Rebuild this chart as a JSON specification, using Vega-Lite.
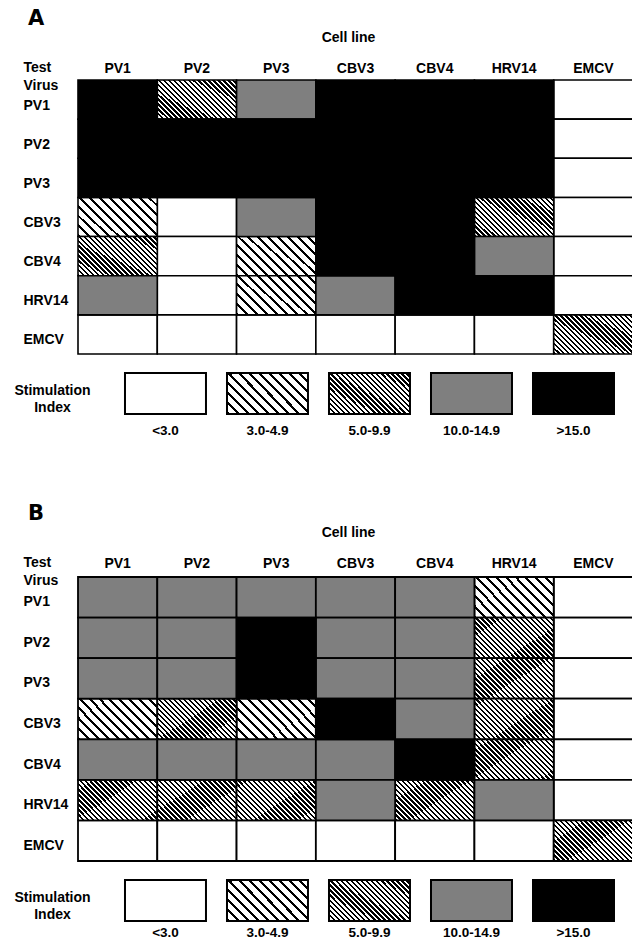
{
"$schema": "https://vega.github.io/schema/vega-lite/v6.json",
"padding": {"left": 13, "top": 8, "right": 0, "bottom": 0},
"bounds": "flush",
"spacing": 19,
"config": {"view": {"stroke": null}, "font": "Liberation Sans", "axis": {"labelColor": "#000", "titleColor": "#000", "labelFontWeight": "bold", "titleFontWeight": "bold", "labelFontSize": 14, "titleFontSize": 14, "ticks": false, "tickSize": 0, "domain": false, "grid": false}},
"datasets": {
"A": [
{"virus":"PV1","cell":"PV1","si":">15.0"},{"virus":"PV1","cell":"PV2","si":"5.0-9.9"},{"virus":"PV1","cell":"PV3","si":"10.0-14.9"},{"virus":"PV1","cell":"CBV3","si":">15.0"},{"virus":"PV1","cell":"CBV4","si":">15.0"},{"virus":"PV1","cell":"HRV14","si":">15.0"},{"virus":"PV1","cell":"EMCV","si":"<3.0"},
{"virus":"PV2","cell":"PV1","si":">15.0"},{"virus":"PV2","cell":"PV2","si":">15.0"},{"virus":"PV2","cell":"PV3","si":">15.0"},{"virus":"PV2","cell":"CBV3","si":">15.0"},{"virus":"PV2","cell":"CBV4","si":">15.0"},{"virus":"PV2","cell":"HRV14","si":">15.0"},{"virus":"PV2","cell":"EMCV","si":"<3.0"},
{"virus":"PV3","cell":"PV1","si":">15.0"},{"virus":"PV3","cell":"PV2","si":">15.0"},{"virus":"PV3","cell":"PV3","si":">15.0"},{"virus":"PV3","cell":"CBV3","si":">15.0"},{"virus":"PV3","cell":"CBV4","si":">15.0"},{"virus":"PV3","cell":"HRV14","si":">15.0"},{"virus":"PV3","cell":"EMCV","si":"<3.0"},
{"virus":"CBV3","cell":"PV1","si":"3.0-4.9"},{"virus":"CBV3","cell":"PV2","si":"<3.0"},{"virus":"CBV3","cell":"PV3","si":"10.0-14.9"},{"virus":"CBV3","cell":"CBV3","si":">15.0"},{"virus":"CBV3","cell":"CBV4","si":">15.0"},{"virus":"CBV3","cell":"HRV14","si":"5.0-9.9"},{"virus":"CBV3","cell":"EMCV","si":"<3.0"},
{"virus":"CBV4","cell":"PV1","si":"5.0-9.9"},{"virus":"CBV4","cell":"PV2","si":"<3.0"},{"virus":"CBV4","cell":"PV3","si":"3.0-4.9"},{"virus":"CBV4","cell":"CBV3","si":">15.0"},{"virus":"CBV4","cell":"CBV4","si":">15.0"},{"virus":"CBV4","cell":"HRV14","si":"10.0-14.9"},{"virus":"CBV4","cell":"EMCV","si":"<3.0"},
{"virus":"HRV14","cell":"PV1","si":"10.0-14.9"},{"virus":"HRV14","cell":"PV2","si":"<3.0"},{"virus":"HRV14","cell":"PV3","si":"3.0-4.9"},{"virus":"HRV14","cell":"CBV3","si":"10.0-14.9"},{"virus":"HRV14","cell":"CBV4","si":">15.0"},{"virus":"HRV14","cell":"HRV14","si":">15.0"},{"virus":"HRV14","cell":"EMCV","si":"<3.0"},
{"virus":"EMCV","cell":"PV1","si":"<3.0"},{"virus":"EMCV","cell":"PV2","si":"<3.0"},{"virus":"EMCV","cell":"PV3","si":"<3.0"},{"virus":"EMCV","cell":"CBV3","si":"<3.0"},{"virus":"EMCV","cell":"CBV4","si":"<3.0"},{"virus":"EMCV","cell":"HRV14","si":"<3.0"},{"virus":"EMCV","cell":"EMCV","si":"5.0-9.9"}
],
"B": [
{"virus":"PV1","cell":"PV1","si":"10.0-14.9"},{"virus":"PV1","cell":"PV2","si":"10.0-14.9"},{"virus":"PV1","cell":"PV3","si":"10.0-14.9"},{"virus":"PV1","cell":"CBV3","si":"10.0-14.9"},{"virus":"PV1","cell":"CBV4","si":"10.0-14.9"},{"virus":"PV1","cell":"HRV14","si":"3.0-4.9"},{"virus":"PV1","cell":"EMCV","si":"<3.0"},
{"virus":"PV2","cell":"PV1","si":"10.0-14.9"},{"virus":"PV2","cell":"PV2","si":"10.0-14.9"},{"virus":"PV2","cell":"PV3","si":">15.0"},{"virus":"PV2","cell":"CBV3","si":"10.0-14.9"},{"virus":"PV2","cell":"CBV4","si":"10.0-14.9"},{"virus":"PV2","cell":"HRV14","si":"5.0-9.9"},{"virus":"PV2","cell":"EMCV","si":"<3.0"},
{"virus":"PV3","cell":"PV1","si":"10.0-14.9"},{"virus":"PV3","cell":"PV2","si":"10.0-14.9"},{"virus":"PV3","cell":"PV3","si":">15.0"},{"virus":"PV3","cell":"CBV3","si":"10.0-14.9"},{"virus":"PV3","cell":"CBV4","si":"10.0-14.9"},{"virus":"PV3","cell":"HRV14","si":"5.0-9.9"},{"virus":"PV3","cell":"EMCV","si":"<3.0"},
{"virus":"CBV3","cell":"PV1","si":"3.0-4.9"},{"virus":"CBV3","cell":"PV2","si":"5.0-9.9"},{"virus":"CBV3","cell":"PV3","si":"3.0-4.9"},{"virus":"CBV3","cell":"CBV3","si":">15.0"},{"virus":"CBV3","cell":"CBV4","si":"10.0-14.9"},{"virus":"CBV3","cell":"HRV14","si":"5.0-9.9"},{"virus":"CBV3","cell":"EMCV","si":"<3.0"},
{"virus":"CBV4","cell":"PV1","si":"10.0-14.9"},{"virus":"CBV4","cell":"PV2","si":"10.0-14.9"},{"virus":"CBV4","cell":"PV3","si":"10.0-14.9"},{"virus":"CBV4","cell":"CBV3","si":"10.0-14.9"},{"virus":"CBV4","cell":"CBV4","si":">15.0"},{"virus":"CBV4","cell":"HRV14","si":"5.0-9.9"},{"virus":"CBV4","cell":"EMCV","si":"<3.0"},
{"virus":"HRV14","cell":"PV1","si":"5.0-9.9"},{"virus":"HRV14","cell":"PV2","si":"5.0-9.9"},{"virus":"HRV14","cell":"PV3","si":"5.0-9.9"},{"virus":"HRV14","cell":"CBV3","si":"10.0-14.9"},{"virus":"HRV14","cell":"CBV4","si":"5.0-9.9"},{"virus":"HRV14","cell":"HRV14","si":"10.0-14.9"},{"virus":"HRV14","cell":"EMCV","si":"<3.0"},
{"virus":"EMCV","cell":"PV1","si":"<3.0"},{"virus":"EMCV","cell":"PV2","si":"<3.0"},{"virus":"EMCV","cell":"PV3","si":"<3.0"},{"virus":"EMCV","cell":"CBV3","si":"<3.0"},{"virus":"EMCV","cell":"CBV4","si":"<3.0"},{"virus":"EMCV","cell":"HRV14","si":"<3.0"},{"virus":"EMCV","cell":"EMCV","si":"5.0-9.9"}
],
"L": [
{"key":"Stimulation Index","si":"<3.0"},{"key":"Stimulation Index","si":"3.0-4.9"},{"key":"Stimulation Index","si":"5.0-9.9"},{"key":"Stimulation Index","si":"10.0-14.9"},{"key":"Stimulation Index","si":">15.0"}
]
},
"vconcat": [
{
"width": 555, "height": 274,
"title": {"text": "A", "anchor": "start", "frame": "group", "dx": -50, "offset": -16, "fontSize": 21, "font": "DejaVu Sans", "fontWeight": "bold", "baseline": "alphabetic", "color": "#000"},
"data": {"name": "A"},
"encoding": {
"x": {"field": "cell", "type": "nominal", "scale": {"domain": ["PV1","PV2","PV3","CBV3","CBV4","HRV14","EMCV"], "paddingInner": 0, "paddingOuter": 0},
"axis": {"orient": "top", "title": "Cell line", "titleX": 270, "titleY": -39, "titleBaseline": "alphabetic", "labelAngle": 0, "labelBaseline": "alphabetic", "labelPadding": 8}},
"y": {"field": "virus", "type": "nominal", "scale": {"domain": ["PV1","PV2","PV3","CBV3","CBV4","HRV14","EMCV"], "paddingInner": 0, "paddingOuter": 0},
"axis": {"title": ["Test","Virus"], "titleAngle": 0, "titleAlign": "left", "titleBaseline": "alphabetic", "titleX": -55, "titleY": -9, "titleLineHeight": 18, "labelAlign": "left", "labelPadding": 55, "labelOffset": 6, "labelBaseline": "middle"}}
},
"layer": [
{"transform": [{"filter": "datum.si == '<3.0'"}], "mark": {"type": "rect", "fill": "#fff", "stroke": "#000", "strokeWidth": 1.6}},
{"transform": [{"filter": "datum.si == '3.0-4.9'"}], "mark": {"type": "rect", "stroke": "#000", "strokeWidth": 1.6, "fill": {"gradient": "linear", "x1": 0, "y1": 1, "x2": 1.2, "y2": 0.4, "stops": [{"offset":0,"color":"#000"},{"offset":0.025,"color":"#000"},{"offset":0.025,"color":"#fff"},{"offset":0.0833,"color":"#fff"},{"offset":0.0833,"color":"#000"},{"offset":0.1083,"color":"#000"},{"offset":0.1083,"color":"#fff"},{"offset":0.1667,"color":"#fff"},{"offset":0.1667,"color":"#000"},{"offset":0.1917,"color":"#000"},{"offset":0.1917,"color":"#fff"},{"offset":0.25,"color":"#fff"},{"offset":0.25,"color":"#000"},{"offset":0.275,"color":"#000"},{"offset":0.275,"color":"#fff"},{"offset":0.3333,"color":"#fff"},{"offset":0.3333,"color":"#000"},{"offset":0.3583,"color":"#000"},{"offset":0.3583,"color":"#fff"},{"offset":0.4167,"color":"#fff"},{"offset":0.4167,"color":"#000"},{"offset":0.4417,"color":"#000"},{"offset":0.4417,"color":"#fff"},{"offset":0.5,"color":"#fff"},{"offset":0.5,"color":"#000"},{"offset":0.525,"color":"#000"},{"offset":0.525,"color":"#fff"},{"offset":0.5833,"color":"#fff"},{"offset":0.5833,"color":"#000"},{"offset":0.6083,"color":"#000"},{"offset":0.6083,"color":"#fff"},{"offset":0.6667,"color":"#fff"},{"offset":0.6667,"color":"#000"},{"offset":0.6917,"color":"#000"},{"offset":0.6917,"color":"#fff"},{"offset":0.75,"color":"#fff"},{"offset":0.75,"color":"#000"},{"offset":0.775,"color":"#000"},{"offset":0.775,"color":"#fff"},{"offset":0.8333,"color":"#fff"},{"offset":0.8333,"color":"#000"},{"offset":0.8583,"color":"#000"},{"offset":0.8583,"color":"#fff"},{"offset":0.9167,"color":"#fff"},{"offset":0.9167,"color":"#000"},{"offset":0.9417,"color":"#000"},{"offset":0.9417,"color":"#fff"},{"offset":1,"color":"#fff"}]}}},
{"transform": [{"filter": "datum.si == '5.0-9.9'"}], "mark": {"type": "rect", "stroke": "#000", "strokeWidth": 1.6, "fill": {"gradient": "linear", "x1": 0, "y1": 1, "x2": 1.2, "y2": 0.4, "stops": [{"offset":0,"color":"#000"},{"offset":0.02,"color":"#000"},{"offset":0.02,"color":"#fff"},{"offset":0.0417,"color":"#fff"},{"offset":0.0417,"color":"#000"},{"offset":0.0617,"color":"#000"},{"offset":0.0617,"color":"#fff"},{"offset":0.0833,"color":"#fff"},{"offset":0.0833,"color":"#000"},{"offset":0.1033,"color":"#000"},{"offset":0.1033,"color":"#fff"},{"offset":0.125,"color":"#fff"},{"offset":0.125,"color":"#000"},{"offset":0.145,"color":"#000"},{"offset":0.145,"color":"#fff"},{"offset":0.1667,"color":"#fff"},{"offset":0.1667,"color":"#000"},{"offset":0.1867,"color":"#000"},{"offset":0.1867,"color":"#fff"},{"offset":0.2083,"color":"#fff"},{"offset":0.2083,"color":"#000"},{"offset":0.2283,"color":"#000"},{"offset":0.2283,"color":"#fff"},{"offset":0.25,"color":"#fff"},{"offset":0.25,"color":"#000"},{"offset":0.27,"color":"#000"},{"offset":0.27,"color":"#fff"},{"offset":0.2917,"color":"#fff"},{"offset":0.2917,"color":"#000"},{"offset":0.3117,"color":"#000"},{"offset":0.3117,"color":"#fff"},{"offset":0.3333,"color":"#fff"},{"offset":0.3333,"color":"#000"},{"offset":0.3533,"color":"#000"},{"offset":0.3533,"color":"#fff"},{"offset":0.375,"color":"#fff"},{"offset":0.375,"color":"#000"},{"offset":0.395,"color":"#000"},{"offset":0.395,"color":"#fff"},{"offset":0.4167,"color":"#fff"},{"offset":0.4167,"color":"#000"},{"offset":0.4367,"color":"#000"},{"offset":0.4367,"color":"#fff"},{"offset":0.4583,"color":"#fff"},{"offset":0.4583,"color":"#000"},{"offset":0.4783,"color":"#000"},{"offset":0.4783,"color":"#fff"},{"offset":0.5,"color":"#fff"},{"offset":0.5,"color":"#000"},{"offset":0.52,"color":"#000"},{"offset":0.52,"color":"#fff"},{"offset":0.5417,"color":"#fff"},{"offset":0.5417,"color":"#000"},{"offset":0.5617,"color":"#000"},{"offset":0.5617,"color":"#fff"},{"offset":0.5833,"color":"#fff"},{"offset":0.5833,"color":"#000"},{"offset":0.6033,"color":"#000"},{"offset":0.6033,"color":"#fff"},{"offset":0.625,"color":"#fff"},{"offset":0.625,"color":"#000"},{"offset":0.645,"color":"#000"},{"offset":0.645,"color":"#fff"},{"offset":0.6667,"color":"#fff"},{"offset":0.6667,"color":"#000"},{"offset":0.6867,"color":"#000"},{"offset":0.6867,"color":"#fff"},{"offset":0.7083,"color":"#fff"},{"offset":0.7083,"color":"#000"},{"offset":0.7283,"color":"#000"},{"offset":0.7283,"color":"#fff"},{"offset":0.75,"color":"#fff"},{"offset":0.75,"color":"#000"},{"offset":0.77,"color":"#000"},{"offset":0.77,"color":"#fff"},{"offset":0.7917,"color":"#fff"},{"offset":0.7917,"color":"#000"},{"offset":0.8117,"color":"#000"},{"offset":0.8117,"color":"#fff"},{"offset":0.8333,"color":"#fff"},{"offset":0.8333,"color":"#000"},{"offset":0.8533,"color":"#000"},{"offset":0.8533,"color":"#fff"},{"offset":0.875,"color":"#fff"},{"offset":0.875,"color":"#000"},{"offset":0.895,"color":"#000"},{"offset":0.895,"color":"#fff"},{"offset":0.9167,"color":"#fff"},{"offset":0.9167,"color":"#000"},{"offset":0.9367,"color":"#000"},{"offset":0.9367,"color":"#fff"},{"offset":0.9583,"color":"#fff"},{"offset":0.9583,"color":"#000"},{"offset":0.9783,"color":"#000"},{"offset":0.9783,"color":"#fff"},{"offset":1,"color":"#fff"}]}}},
{"transform": [{"filter": "datum.si == '10.0-14.9'"}], "mark": {"type": "rect", "fill": "#7f7f7f", "stroke": "#000", "strokeWidth": 1.6}},
{"transform": [{"filter": "datum.si == '>15.0'"}], "mark": {"type": "rect", "fill": "#000", "stroke": "#000", "strokeWidth": 1.6}}
]
},
{
"width": 555, "height": 41,
"data": {"name": "L"},
"encoding": {
"x": {"field": "si", "type": "nominal", "scale": {"domain": ["<3.0","3.0-4.9","5.0-9.9","10.0-14.9",">15.0"], "paddingInner": 0.206, "paddingOuter": 0.3235, "align": 0.712},
"axis": {"orient": "bottom", "title": null, "labelAngle": 0, "labelBaseline": "alphabetic", "labelPadding": 20, "labelFontSize": 13.5}},
"y": {"field": "key", "type": "nominal", "scale": {"paddingInner": 0, "paddingOuter": 0},
"axis": {"title": null, "labelAlign": "center", "labelPadding": 26, "labelExpr": "split(datum.label, ' ')", "labelLineHeight": 17, "labelOffset": -3, "labelBaseline": "middle"}}
},
"layer": [
{"transform": [{"filter": "datum.si == '<3.0'"}], "mark": {"type": "rect", "fill": "#fff", "stroke": "#000", "strokeWidth": 2}},
{"transform": [{"filter": "datum.si == '3.0-4.9'"}], "mark": {"type": "rect", "stroke": "#000", "strokeWidth": 2, "fill": {"gradient": "linear", "x1": 0, "y1": 1, "x2": 1.2, "y2": 0.4, "stops": [{"offset":0,"color":"#000"},{"offset":0.025,"color":"#000"},{"offset":0.025,"color":"#fff"},{"offset":0.0833,"color":"#fff"},{"offset":0.0833,"color":"#000"},{"offset":0.1083,"color":"#000"},{"offset":0.1083,"color":"#fff"},{"offset":0.1667,"color":"#fff"},{"offset":0.1667,"color":"#000"},{"offset":0.1917,"color":"#000"},{"offset":0.1917,"color":"#fff"},{"offset":0.25,"color":"#fff"},{"offset":0.25,"color":"#000"},{"offset":0.275,"color":"#000"},{"offset":0.275,"color":"#fff"},{"offset":0.3333,"color":"#fff"},{"offset":0.3333,"color":"#000"},{"offset":0.3583,"color":"#000"},{"offset":0.3583,"color":"#fff"},{"offset":0.4167,"color":"#fff"},{"offset":0.4167,"color":"#000"},{"offset":0.4417,"color":"#000"},{"offset":0.4417,"color":"#fff"},{"offset":0.5,"color":"#fff"},{"offset":0.5,"color":"#000"},{"offset":0.525,"color":"#000"},{"offset":0.525,"color":"#fff"},{"offset":0.5833,"color":"#fff"},{"offset":0.5833,"color":"#000"},{"offset":0.6083,"color":"#000"},{"offset":0.6083,"color":"#fff"},{"offset":0.6667,"color":"#fff"},{"offset":0.6667,"color":"#000"},{"offset":0.6917,"color":"#000"},{"offset":0.6917,"color":"#fff"},{"offset":0.75,"color":"#fff"},{"offset":0.75,"color":"#000"},{"offset":0.775,"color":"#000"},{"offset":0.775,"color":"#fff"},{"offset":0.8333,"color":"#fff"},{"offset":0.8333,"color":"#000"},{"offset":0.8583,"color":"#000"},{"offset":0.8583,"color":"#fff"},{"offset":0.9167,"color":"#fff"},{"offset":0.9167,"color":"#000"},{"offset":0.9417,"color":"#000"},{"offset":0.9417,"color":"#fff"},{"offset":1,"color":"#fff"}]}}},
{"transform": [{"filter": "datum.si == '5.0-9.9'"}], "mark": {"type": "rect", "stroke": "#000", "strokeWidth": 2, "fill": {"gradient": "linear", "x1": 0, "y1": 1, "x2": 1.2, "y2": 0.4, "stops": [{"offset":0,"color":"#000"},{"offset":0.02,"color":"#000"},{"offset":0.02,"color":"#fff"},{"offset":0.0417,"color":"#fff"},{"offset":0.0417,"color":"#000"},{"offset":0.0617,"color":"#000"},{"offset":0.0617,"color":"#fff"},{"offset":0.0833,"color":"#fff"},{"offset":0.0833,"color":"#000"},{"offset":0.1033,"color":"#000"},{"offset":0.1033,"color":"#fff"},{"offset":0.125,"color":"#fff"},{"offset":0.125,"color":"#000"},{"offset":0.145,"color":"#000"},{"offset":0.145,"color":"#fff"},{"offset":0.1667,"color":"#fff"},{"offset":0.1667,"color":"#000"},{"offset":0.1867,"color":"#000"},{"offset":0.1867,"color":"#fff"},{"offset":0.2083,"color":"#fff"},{"offset":0.2083,"color":"#000"},{"offset":0.2283,"color":"#000"},{"offset":0.2283,"color":"#fff"},{"offset":0.25,"color":"#fff"},{"offset":0.25,"color":"#000"},{"offset":0.27,"color":"#000"},{"offset":0.27,"color":"#fff"},{"offset":0.2917,"color":"#fff"},{"offset":0.2917,"color":"#000"},{"offset":0.3117,"color":"#000"},{"offset":0.3117,"color":"#fff"},{"offset":0.3333,"color":"#fff"},{"offset":0.3333,"color":"#000"},{"offset":0.3533,"color":"#000"},{"offset":0.3533,"color":"#fff"},{"offset":0.375,"color":"#fff"},{"offset":0.375,"color":"#000"},{"offset":0.395,"color":"#000"},{"offset":0.395,"color":"#fff"},{"offset":0.4167,"color":"#fff"},{"offset":0.4167,"color":"#000"},{"offset":0.4367,"color":"#000"},{"offset":0.4367,"color":"#fff"},{"offset":0.4583,"color":"#fff"},{"offset":0.4583,"color":"#000"},{"offset":0.4783,"color":"#000"},{"offset":0.4783,"color":"#fff"},{"offset":0.5,"color":"#fff"},{"offset":0.5,"color":"#000"},{"offset":0.52,"color":"#000"},{"offset":0.52,"color":"#fff"},{"offset":0.5417,"color":"#fff"},{"offset":0.5417,"color":"#000"},{"offset":0.5617,"color":"#000"},{"offset":0.5617,"color":"#fff"},{"offset":0.5833,"color":"#fff"},{"offset":0.5833,"color":"#000"},{"offset":0.6033,"color":"#000"},{"offset":0.6033,"color":"#fff"},{"offset":0.625,"color":"#fff"},{"offset":0.625,"color":"#000"},{"offset":0.645,"color":"#000"},{"offset":0.645,"color":"#fff"},{"offset":0.6667,"color":"#fff"},{"offset":0.6667,"color":"#000"},{"offset":0.6867,"color":"#000"},{"offset":0.6867,"color":"#fff"},{"offset":0.7083,"color":"#fff"},{"offset":0.7083,"color":"#000"},{"offset":0.7283,"color":"#000"},{"offset":0.7283,"color":"#fff"},{"offset":0.75,"color":"#fff"},{"offset":0.75,"color":"#000"},{"offset":0.77,"color":"#000"},{"offset":0.77,"color":"#fff"},{"offset":0.7917,"color":"#fff"},{"offset":0.7917,"color":"#000"},{"offset":0.8117,"color":"#000"},{"offset":0.8117,"color":"#fff"},{"offset":0.8333,"color":"#fff"},{"offset":0.8333,"color":"#000"},{"offset":0.8533,"color":"#000"},{"offset":0.8533,"color":"#fff"},{"offset":0.875,"color":"#fff"},{"offset":0.875,"color":"#000"},{"offset":0.895,"color":"#000"},{"offset":0.895,"color":"#fff"},{"offset":0.9167,"color":"#fff"},{"offset":0.9167,"color":"#000"},{"offset":0.9367,"color":"#000"},{"offset":0.9367,"color":"#fff"},{"offset":0.9583,"color":"#fff"},{"offset":0.9583,"color":"#000"},{"offset":0.9783,"color":"#000"},{"offset":0.9783,"color":"#fff"},{"offset":1,"color":"#fff"}]}}},
{"transform": [{"filter": "datum.si == '10.0-14.9'"}], "mark": {"type": "rect", "fill": "#7f7f7f", "stroke": "#000", "strokeWidth": 2}},
{"transform": [{"filter": "datum.si == '>15.0'"}], "mark": {"type": "rect", "fill": "#000", "stroke": "#000", "strokeWidth": 2}}
]
},
{
"width": 555, "height": 125,
"data": {"values": [{}]},
"mark": {"type": "text", "text": ""},
"encoding": {}
},
{
"width": 555, "height": 284,
"title": {"text": "B", "anchor": "start", "frame": "group", "dx": -50, "offset": -16, "fontSize": 21, "font": "DejaVu Sans", "fontWeight": "bold", "baseline": "alphabetic", "color": "#000"},
"data": {"name": "B"},
"encoding": {
"x": {"field": "cell", "type": "nominal", "scale": {"domain": ["PV1","PV2","PV3","CBV3","CBV4","HRV14","EMCV"], "paddingInner": 0, "paddingOuter": 0},
"axis": {"orient": "top", "title": "Cell line", "titleX": 270, "titleY": -41, "titleBaseline": "alphabetic", "labelAngle": 0, "labelBaseline": "alphabetic", "labelPadding": 10}},
"y": {"field": "virus", "type": "nominal", "scale": {"domain": ["PV1","PV2","PV3","CBV3","CBV4","HRV14","EMCV"], "paddingInner": 0, "paddingOuter": 0},
"axis": {"title": ["Test","Virus"], "titleAngle": 0, "titleAlign": "left", "titleBaseline": "alphabetic", "titleX": -55, "titleY": -11, "titleLineHeight": 18, "labelAlign": "left", "labelPadding": 55, "labelOffset": 5, "labelBaseline": "middle"}}
},
"layer": [
{"transform": [{"filter": "datum.si == '<3.0'"}], "mark": {"type": "rect", "fill": "#fff", "stroke": "#000", "strokeWidth": 1.8}},
{"transform": [{"filter": "datum.si == '3.0-4.9'"}], "mark": {"type": "rect", "stroke": "#000", "strokeWidth": 1.8, "fill": {"gradient": "linear", "x1": 0, "y1": 1, "x2": 1.2, "y2": 0.4, "stops": [{"offset":0,"color":"#000"},{"offset":0.025,"color":"#000"},{"offset":0.025,"color":"#fff"},{"offset":0.0833,"color":"#fff"},{"offset":0.0833,"color":"#000"},{"offset":0.1083,"color":"#000"},{"offset":0.1083,"color":"#fff"},{"offset":0.1667,"color":"#fff"},{"offset":0.1667,"color":"#000"},{"offset":0.1917,"color":"#000"},{"offset":0.1917,"color":"#fff"},{"offset":0.25,"color":"#fff"},{"offset":0.25,"color":"#000"},{"offset":0.275,"color":"#000"},{"offset":0.275,"color":"#fff"},{"offset":0.3333,"color":"#fff"},{"offset":0.3333,"color":"#000"},{"offset":0.3583,"color":"#000"},{"offset":0.3583,"color":"#fff"},{"offset":0.4167,"color":"#fff"},{"offset":0.4167,"color":"#000"},{"offset":0.4417,"color":"#000"},{"offset":0.4417,"color":"#fff"},{"offset":0.5,"color":"#fff"},{"offset":0.5,"color":"#000"},{"offset":0.525,"color":"#000"},{"offset":0.525,"color":"#fff"},{"offset":0.5833,"color":"#fff"},{"offset":0.5833,"color":"#000"},{"offset":0.6083,"color":"#000"},{"offset":0.6083,"color":"#fff"},{"offset":0.6667,"color":"#fff"},{"offset":0.6667,"color":"#000"},{"offset":0.6917,"color":"#000"},{"offset":0.6917,"color":"#fff"},{"offset":0.75,"color":"#fff"},{"offset":0.75,"color":"#000"},{"offset":0.775,"color":"#000"},{"offset":0.775,"color":"#fff"},{"offset":0.8333,"color":"#fff"},{"offset":0.8333,"color":"#000"},{"offset":0.8583,"color":"#000"},{"offset":0.8583,"color":"#fff"},{"offset":0.9167,"color":"#fff"},{"offset":0.9167,"color":"#000"},{"offset":0.9417,"color":"#000"},{"offset":0.9417,"color":"#fff"},{"offset":1,"color":"#fff"}]}}},
{"transform": [{"filter": "datum.si == '5.0-9.9'"}], "mark": {"type": "rect", "stroke": "#000", "strokeWidth": 1.8, "fill": {"gradient": "linear", "x1": 0, "y1": 1, "x2": 1.2, "y2": 0.4, "stops": [{"offset":0,"color":"#000"},{"offset":0.02,"color":"#000"},{"offset":0.02,"color":"#fff"},{"offset":0.0417,"color":"#fff"},{"offset":0.0417,"color":"#000"},{"offset":0.0617,"color":"#000"},{"offset":0.0617,"color":"#fff"},{"offset":0.0833,"color":"#fff"},{"offset":0.0833,"color":"#000"},{"offset":0.1033,"color":"#000"},{"offset":0.1033,"color":"#fff"},{"offset":0.125,"color":"#fff"},{"offset":0.125,"color":"#000"},{"offset":0.145,"color":"#000"},{"offset":0.145,"color":"#fff"},{"offset":0.1667,"color":"#fff"},{"offset":0.1667,"color":"#000"},{"offset":0.1867,"color":"#000"},{"offset":0.1867,"color":"#fff"},{"offset":0.2083,"color":"#fff"},{"offset":0.2083,"color":"#000"},{"offset":0.2283,"color":"#000"},{"offset":0.2283,"color":"#fff"},{"offset":0.25,"color":"#fff"},{"offset":0.25,"color":"#000"},{"offset":0.27,"color":"#000"},{"offset":0.27,"color":"#fff"},{"offset":0.2917,"color":"#fff"},{"offset":0.2917,"color":"#000"},{"offset":0.3117,"color":"#000"},{"offset":0.3117,"color":"#fff"},{"offset":0.3333,"color":"#fff"},{"offset":0.3333,"color":"#000"},{"offset":0.3533,"color":"#000"},{"offset":0.3533,"color":"#fff"},{"offset":0.375,"color":"#fff"},{"offset":0.375,"color":"#000"},{"offset":0.395,"color":"#000"},{"offset":0.395,"color":"#fff"},{"offset":0.4167,"color":"#fff"},{"offset":0.4167,"color":"#000"},{"offset":0.4367,"color":"#000"},{"offset":0.4367,"color":"#fff"},{"offset":0.4583,"color":"#fff"},{"offset":0.4583,"color":"#000"},{"offset":0.4783,"color":"#000"},{"offset":0.4783,"color":"#fff"},{"offset":0.5,"color":"#fff"},{"offset":0.5,"color":"#000"},{"offset":0.52,"color":"#000"},{"offset":0.52,"color":"#fff"},{"offset":0.5417,"color":"#fff"},{"offset":0.5417,"color":"#000"},{"offset":0.5617,"color":"#000"},{"offset":0.5617,"color":"#fff"},{"offset":0.5833,"color":"#fff"},{"offset":0.5833,"color":"#000"},{"offset":0.6033,"color":"#000"},{"offset":0.6033,"color":"#fff"},{"offset":0.625,"color":"#fff"},{"offset":0.625,"color":"#000"},{"offset":0.645,"color":"#000"},{"offset":0.645,"color":"#fff"},{"offset":0.6667,"color":"#fff"},{"offset":0.6667,"color":"#000"},{"offset":0.6867,"color":"#000"},{"offset":0.6867,"color":"#fff"},{"offset":0.7083,"color":"#fff"},{"offset":0.7083,"color":"#000"},{"offset":0.7283,"color":"#000"},{"offset":0.7283,"color":"#fff"},{"offset":0.75,"color":"#fff"},{"offset":0.75,"color":"#000"},{"offset":0.77,"color":"#000"},{"offset":0.77,"color":"#fff"},{"offset":0.7917,"color":"#fff"},{"offset":0.7917,"color":"#000"},{"offset":0.8117,"color":"#000"},{"offset":0.8117,"color":"#fff"},{"offset":0.8333,"color":"#fff"},{"offset":0.8333,"color":"#000"},{"offset":0.8533,"color":"#000"},{"offset":0.8533,"color":"#fff"},{"offset":0.875,"color":"#fff"},{"offset":0.875,"color":"#000"},{"offset":0.895,"color":"#000"},{"offset":0.895,"color":"#fff"},{"offset":0.9167,"color":"#fff"},{"offset":0.9167,"color":"#000"},{"offset":0.9367,"color":"#000"},{"offset":0.9367,"color":"#fff"},{"offset":0.9583,"color":"#fff"},{"offset":0.9583,"color":"#000"},{"offset":0.9783,"color":"#000"},{"offset":0.9783,"color":"#fff"},{"offset":1,"color":"#fff"}]}}},
{"transform": [{"filter": "datum.si == '10.0-14.9'"}], "mark": {"type": "rect", "fill": "#7f7f7f", "stroke": "#000", "strokeWidth": 1.8}},
{"transform": [{"filter": "datum.si == '>15.0'"}], "mark": {"type": "rect", "fill": "#000", "stroke": "#000", "strokeWidth": 1.8}}
]
},
{
"width": 555, "height": 41,
"data": {"name": "L"},
"encoding": {
"x": {"field": "si", "type": "nominal", "scale": {"domain": ["<3.0","3.0-4.9","5.0-9.9","10.0-14.9",">15.0"], "paddingInner": 0.206, "paddingOuter": 0.3235, "align": 0.712},
"axis": {"orient": "bottom", "title": null, "labelAngle": 0, "labelBaseline": "alphabetic", "labelPadding": 15, "labelFontSize": 13.5}},
"y": {"field": "key", "type": "nominal", "scale": {"paddingInner": 0, "paddingOuter": 0},
"axis": {"title": null, "labelAlign": "center", "labelPadding": 26, "labelExpr": "split(datum.label, ' ')", "labelLineHeight": 17, "labelOffset": -3, "labelBaseline": "middle"}}
},
"layer": [
{"transform": [{"filter": "datum.si == '<3.0'"}], "mark": {"type": "rect", "fill": "#fff", "stroke": "#000", "strokeWidth": 2}},
{"transform": [{"filter": "datum.si == '3.0-4.9'"}], "mark": {"type": "rect", "stroke": "#000", "strokeWidth": 2, "fill": {"gradient": "linear", "x1": 0, "y1": 1, "x2": 1.2, "y2": 0.4, "stops": [{"offset":0,"color":"#000"},{"offset":0.025,"color":"#000"},{"offset":0.025,"color":"#fff"},{"offset":0.0833,"color":"#fff"},{"offset":0.0833,"color":"#000"},{"offset":0.1083,"color":"#000"},{"offset":0.1083,"color":"#fff"},{"offset":0.1667,"color":"#fff"},{"offset":0.1667,"color":"#000"},{"offset":0.1917,"color":"#000"},{"offset":0.1917,"color":"#fff"},{"offset":0.25,"color":"#fff"},{"offset":0.25,"color":"#000"},{"offset":0.275,"color":"#000"},{"offset":0.275,"color":"#fff"},{"offset":0.3333,"color":"#fff"},{"offset":0.3333,"color":"#000"},{"offset":0.3583,"color":"#000"},{"offset":0.3583,"color":"#fff"},{"offset":0.4167,"color":"#fff"},{"offset":0.4167,"color":"#000"},{"offset":0.4417,"color":"#000"},{"offset":0.4417,"color":"#fff"},{"offset":0.5,"color":"#fff"},{"offset":0.5,"color":"#000"},{"offset":0.525,"color":"#000"},{"offset":0.525,"color":"#fff"},{"offset":0.5833,"color":"#fff"},{"offset":0.5833,"color":"#000"},{"offset":0.6083,"color":"#000"},{"offset":0.6083,"color":"#fff"},{"offset":0.6667,"color":"#fff"},{"offset":0.6667,"color":"#000"},{"offset":0.6917,"color":"#000"},{"offset":0.6917,"color":"#fff"},{"offset":0.75,"color":"#fff"},{"offset":0.75,"color":"#000"},{"offset":0.775,"color":"#000"},{"offset":0.775,"color":"#fff"},{"offset":0.8333,"color":"#fff"},{"offset":0.8333,"color":"#000"},{"offset":0.8583,"color":"#000"},{"offset":0.8583,"color":"#fff"},{"offset":0.9167,"color":"#fff"},{"offset":0.9167,"color":"#000"},{"offset":0.9417,"color":"#000"},{"offset":0.9417,"color":"#fff"},{"offset":1,"color":"#fff"}]}}},
{"transform": [{"filter": "datum.si == '5.0-9.9'"}], "mark": {"type": "rect", "stroke": "#000", "strokeWidth": 2, "fill": {"gradient": "linear", "x1": 0, "y1": 1, "x2": 1.2, "y2": 0.4, "stops": [{"offset":0,"color":"#000"},{"offset":0.02,"color":"#000"},{"offset":0.02,"color":"#fff"},{"offset":0.0417,"color":"#fff"},{"offset":0.0417,"color":"#000"},{"offset":0.0617,"color":"#000"},{"offset":0.0617,"color":"#fff"},{"offset":0.0833,"color":"#fff"},{"offset":0.0833,"color":"#000"},{"offset":0.1033,"color":"#000"},{"offset":0.1033,"color":"#fff"},{"offset":0.125,"color":"#fff"},{"offset":0.125,"color":"#000"},{"offset":0.145,"color":"#000"},{"offset":0.145,"color":"#fff"},{"offset":0.1667,"color":"#fff"},{"offset":0.1667,"color":"#000"},{"offset":0.1867,"color":"#000"},{"offset":0.1867,"color":"#fff"},{"offset":0.2083,"color":"#fff"},{"offset":0.2083,"color":"#000"},{"offset":0.2283,"color":"#000"},{"offset":0.2283,"color":"#fff"},{"offset":0.25,"color":"#fff"},{"offset":0.25,"color":"#000"},{"offset":0.27,"color":"#000"},{"offset":0.27,"color":"#fff"},{"offset":0.2917,"color":"#fff"},{"offset":0.2917,"color":"#000"},{"offset":0.3117,"color":"#000"},{"offset":0.3117,"color":"#fff"},{"offset":0.3333,"color":"#fff"},{"offset":0.3333,"color":"#000"},{"offset":0.3533,"color":"#000"},{"offset":0.3533,"color":"#fff"},{"offset":0.375,"color":"#fff"},{"offset":0.375,"color":"#000"},{"offset":0.395,"color":"#000"},{"offset":0.395,"color":"#fff"},{"offset":0.4167,"color":"#fff"},{"offset":0.4167,"color":"#000"},{"offset":0.4367,"color":"#000"},{"offset":0.4367,"color":"#fff"},{"offset":0.4583,"color":"#fff"},{"offset":0.4583,"color":"#000"},{"offset":0.4783,"color":"#000"},{"offset":0.4783,"color":"#fff"},{"offset":0.5,"color":"#fff"},{"offset":0.5,"color":"#000"},{"offset":0.52,"color":"#000"},{"offset":0.52,"color":"#fff"},{"offset":0.5417,"color":"#fff"},{"offset":0.5417,"color":"#000"},{"offset":0.5617,"color":"#000"},{"offset":0.5617,"color":"#fff"},{"offset":0.5833,"color":"#fff"},{"offset":0.5833,"color":"#000"},{"offset":0.6033,"color":"#000"},{"offset":0.6033,"color":"#fff"},{"offset":0.625,"color":"#fff"},{"offset":0.625,"color":"#000"},{"offset":0.645,"color":"#000"},{"offset":0.645,"color":"#fff"},{"offset":0.6667,"color":"#fff"},{"offset":0.6667,"color":"#000"},{"offset":0.6867,"color":"#000"},{"offset":0.6867,"color":"#fff"},{"offset":0.7083,"color":"#fff"},{"offset":0.7083,"color":"#000"},{"offset":0.7283,"color":"#000"},{"offset":0.7283,"color":"#fff"},{"offset":0.75,"color":"#fff"},{"offset":0.75,"color":"#000"},{"offset":0.77,"color":"#000"},{"offset":0.77,"color":"#fff"},{"offset":0.7917,"color":"#fff"},{"offset":0.7917,"color":"#000"},{"offset":0.8117,"color":"#000"},{"offset":0.8117,"color":"#fff"},{"offset":0.8333,"color":"#fff"},{"offset":0.8333,"color":"#000"},{"offset":0.8533,"color":"#000"},{"offset":0.8533,"color":"#fff"},{"offset":0.875,"color":"#fff"},{"offset":0.875,"color":"#000"},{"offset":0.895,"color":"#000"},{"offset":0.895,"color":"#fff"},{"offset":0.9167,"color":"#fff"},{"offset":0.9167,"color":"#000"},{"offset":0.9367,"color":"#000"},{"offset":0.9367,"color":"#fff"},{"offset":0.9583,"color":"#fff"},{"offset":0.9583,"color":"#000"},{"offset":0.9783,"color":"#000"},{"offset":0.9783,"color":"#fff"},{"offset":1,"color":"#fff"}]}}},
{"transform": [{"filter": "datum.si == '10.0-14.9'"}], "mark": {"type": "rect", "fill": "#7f7f7f", "stroke": "#000", "strokeWidth": 2}},
{"transform": [{"filter": "datum.si == '>15.0'"}], "mark": {"type": "rect", "fill": "#000", "stroke": "#000", "strokeWidth": 2}}
]
}
]
}
